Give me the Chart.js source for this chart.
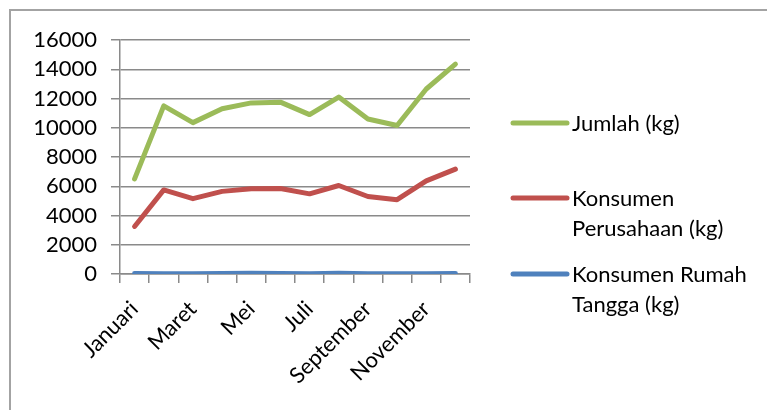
<!DOCTYPE html>
<html>
<head>
<meta charset="utf-8">
<script src="https://cdn.jsdelivr.net/npm/chart.js@4"></script>
<style>
  html, body { margin: 0; padding: 0; background: #fff; overflow: hidden; }
  #wrap { position: relative; width: 767px; height: 410px; }
  #frame { position: absolute; left: 9px; top: 9px; width: 800px; height: 420px;
           border-left: 2px solid #a3a3a3; border-top: 2px solid #a3a3a3; }
  canvas { position: absolute; left: 0; top: 0; }
</style>
</head>
<body>
<div id="wrap">
  <div id="frame"></div>
  <canvas id="lineChart" width="767" height="410"></canvas>
</div>
<script>
// Data
const months = ['Januari', 'Februari', 'Maret', 'April', 'Mei', 'Juni',
  'Juli', 'Agustus', 'September', 'Oktober', 'November', 'Desember'];
const jumlah = [6500, 11500, 10350, 11300, 11700, 11750, 10900, 12100, 10600, 10150, 12650, 14350];
const perusahaan = [3250, 5750, 5150, 5650, 5830, 5850, 5480, 6050, 5300, 5080, 6370, 7170];
const rumahTangga = [40, 20, 25, 30, 45, 30, 25, 45, 25, 20, 25, 30];
const yTicks = [0, 2000, 4000, 6000, 8000, 10000, 12000, 14000, 16000];
const legendLines = [['Jumlah (kg)'], ['Konsumen', 'Perusahaan (kg)'], ['Konsumen Rumah', 'Tangga (kg)']];

const gridColor = '#8a8a8a';
const fontSize = 22;

// Legend drawn on the right, with wrapped labels like the original
const sideLegend = {
  id: 'sideLegend',
  afterDraw(chart) {
    const ctx = chart.ctx;
    const x0 = chart.chartArea.right + 43;
    const rows = [123, 198, 274];
    ctx.save();
    ctx.font = fontSize + 'px Lato';
    ctx.textBaseline = 'middle';
    ctx.fillStyle = '#000';
    chart.data.datasets.forEach((ds, i) => {
      const y = rows[i];
      ctx.strokeStyle = ds.borderColor;
      ctx.lineWidth = 5;
      ctx.lineCap = 'round';
      ctx.beginPath();
      ctx.moveTo(x0, y);
      ctx.lineTo(x0 + 54, y);
      ctx.stroke();
      legendLines[i].forEach((line, j) => {
        ctx.fillText(line, x0 + 59, y + 1 + j * 30);
      });
    });
    ctx.restore();
  }
};

try {
  const ctx = document.getElementById('lineChart').getContext('2d');
  Chart.defaults.font.family = 'Lato';
  Chart.defaults.font.size = fontSize;
  Chart.defaults.color = '#000';

  new Chart(ctx, {
    type: 'line',
    data: {
      labels: months,
      datasets: [
        { label: 'Jumlah (kg)', data: jumlah, borderColor: '#9bbb59' },
        { label: 'Konsumen Perusahaan (kg)', data: perusahaan, borderColor: '#c0504d' },
        { label: 'Konsumen Rumah Tangga (kg)', data: rumahTangga, borderColor: '#4f81bd' }
      ].map(ds => Object.assign(ds, {
        borderWidth: 5,
        pointRadius: 0,
        tension: 0,
        fill: false,
        borderCapStyle: 'round',
        borderJoinStyle: 'round'
      }))
    },
    options: {
      responsive: false,
      animation: false,
      layout: { padding: { top: 40, right: 297, left: 0, bottom: 0 } },
      plugins: { legend: { display: false }, tooltip: { enabled: false } },
      scales: {
        x: {
          offset: true,
          grid: {
            offset: true,
            drawOnChartArea: false,
            drawTicks: true,
            tickLength: 9,
            color: gridColor,
            lineWidth: 1.5
          },
          border: { color: gridColor, width: 1.5 },
          ticks: {
            autoSkip: false,
            maxRotation: 45,
            minRotation: 45,
            padding: 13,
            callback: (val, idx) => (idx % 2 === 0 ? months[idx] : '')
          },
          afterFit(scale) { scale.height = 136; }
        },
        y: {
          min: yTicks[0],
          max: yTicks[yTicks.length - 1],
          ticks: {
            autoSkip: false,
            stepSize: yTicks[1] - yTicks[0],
            padding: 14,
            callback: val => String(val)
          },
          grid: { color: gridColor, lineWidth: 1.5, tickLength: 9 },
          border: { color: gridColor, width: 1.5 },
          afterFit(scale) { scale.width = 120; }
        }
      }
    },
    plugins: [sideLegend]
  });
} catch (error) {
  console.error('Error initializing chart:', error);
}
</script>
</body>
</html>
